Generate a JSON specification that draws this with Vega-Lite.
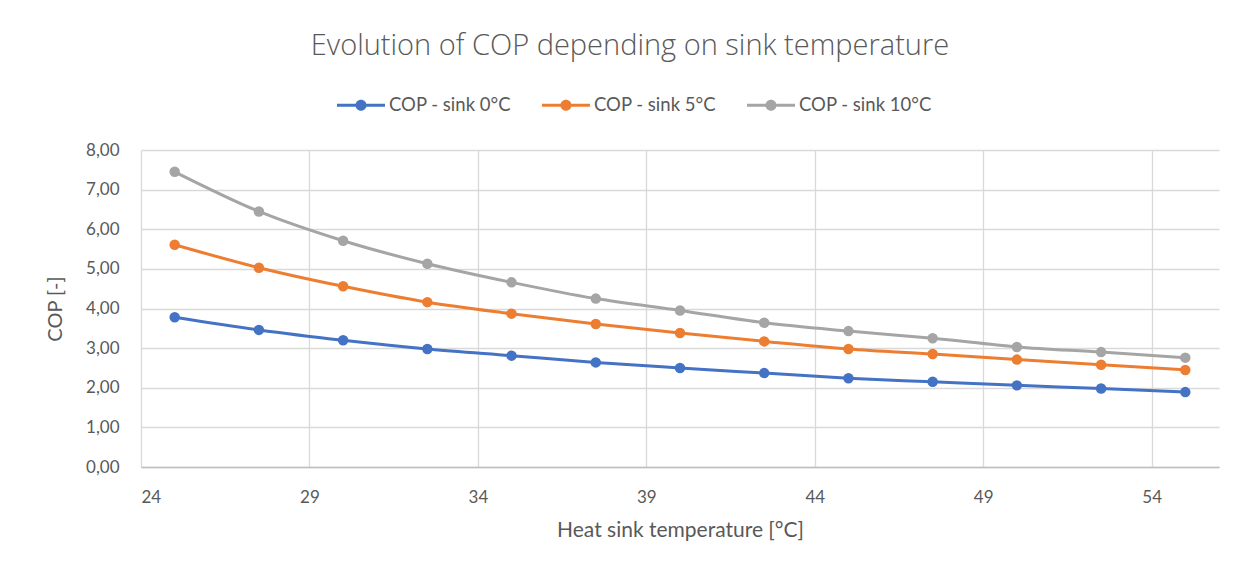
{
  "$schema": "https://vega.github.io/schema/vega-lite/v6.json",
  "width": 1078,
  "height": 317,
  "autosize": {"type": "none"},
  "padding": {"left": 141, "top": 150, "right": 40, "bottom": 95},
  "background": "white",
  "title": {
    "text": "Evolution of COP depending on sink temperature",
    "font": "Open Sans",
    "fontSize": 29,
    "fontWeight": 300,
    "color": "#595959",
    "anchor": "middle",
    "dx": -50,
    "offset": 20
  },
  "data": {
    "values": [
      {"t": 25, "series": "COP - sink 0°C", "cop": 3.78},
      {"t": 27.5, "series": "COP - sink 0°C", "cop": 3.46},
      {"t": 30, "series": "COP - sink 0°C", "cop": 3.20},
      {"t": 32.5, "series": "COP - sink 0°C", "cop": 2.98},
      {"t": 35, "series": "COP - sink 0°C", "cop": 2.81},
      {"t": 37.5, "series": "COP - sink 0°C", "cop": 2.64},
      {"t": 40, "series": "COP - sink 0°C", "cop": 2.50},
      {"t": 42.5, "series": "COP - sink 0°C", "cop": 2.37},
      {"t": 45, "series": "COP - sink 0°C", "cop": 2.24},
      {"t": 47.5, "series": "COP - sink 0°C", "cop": 2.15},
      {"t": 50, "series": "COP - sink 0°C", "cop": 2.06},
      {"t": 52.5, "series": "COP - sink 0°C", "cop": 1.98},
      {"t": 55, "series": "COP - sink 0°C", "cop": 1.89},
      {"t": 25, "series": "COP - sink 5°C", "cop": 5.61},
      {"t": 27.5, "series": "COP - sink 5°C", "cop": 5.03},
      {"t": 30, "series": "COP - sink 5°C", "cop": 4.56},
      {"t": 32.5, "series": "COP - sink 5°C", "cop": 4.16},
      {"t": 35, "series": "COP - sink 5°C", "cop": 3.87},
      {"t": 37.5, "series": "COP - sink 5°C", "cop": 3.61},
      {"t": 40, "series": "COP - sink 5°C", "cop": 3.38},
      {"t": 42.5, "series": "COP - sink 5°C", "cop": 3.17},
      {"t": 45, "series": "COP - sink 5°C", "cop": 2.98},
      {"t": 47.5, "series": "COP - sink 5°C", "cop": 2.85},
      {"t": 50, "series": "COP - sink 5°C", "cop": 2.71},
      {"t": 52.5, "series": "COP - sink 5°C", "cop": 2.58},
      {"t": 55, "series": "COP - sink 5°C", "cop": 2.45},
      {"t": 25, "series": "COP - sink 10°C", "cop": 7.45},
      {"t": 27.5, "series": "COP - sink 10°C", "cop": 6.45},
      {"t": 30, "series": "COP - sink 10°C", "cop": 5.71},
      {"t": 32.5, "series": "COP - sink 10°C", "cop": 5.13},
      {"t": 35, "series": "COP - sink 10°C", "cop": 4.66},
      {"t": 37.5, "series": "COP - sink 10°C", "cop": 4.25},
      {"t": 40, "series": "COP - sink 10°C", "cop": 3.95},
      {"t": 42.5, "series": "COP - sink 10°C", "cop": 3.64},
      {"t": 45, "series": "COP - sink 10°C", "cop": 3.43},
      {"t": 47.5, "series": "COP - sink 10°C", "cop": 3.25},
      {"t": 50, "series": "COP - sink 10°C", "cop": 3.03},
      {"t": 52.5, "series": "COP - sink 10°C", "cop": 2.90},
      {"t": 55, "series": "COP - sink 10°C", "cop": 2.76}
    ]
  },
  "encoding": {
    "x": {
      "field": "t",
      "type": "quantitative",
      "scale": {"domain": [24, 56], "nice": false, "zero": false},
      "axis": {
        "title": "Heat sink temperature [°C]",
        "values": [24, 29, 34, 39, 44, 49, 54],
        "format": "d",
        "grid": true,
        "gridColor": "#D9D9D9",
        "gridWidth": 1.3,
        "domain": true,
        "domainColor": "#BFBFBF",
        "domainWidth": 1.5,
        "ticks": false,
        "labelPadding": 22,
        "labelFont": "Lato",
        "labelFontSize": 17,
        "labelColor": "#595959",
        "titleFont": "Lato",
        "titleFontSize": 21,
        "titleFontWeight": "normal",
        "titleColor": "#595959",
        "titlePadding": 14
      }
    },
    "y": {
      "field": "cop",
      "type": "quantitative",
      "scale": {"domain": [0, 8], "nice": false},
      "axis": {
        "title": "COP [-]",
        "values": [0, 1, 2, 3, 4, 5, 6, 7, 8],
        "labelExpr": "replace(format(datum.value, '.2f'), '.', ',')",
        "grid": true,
        "gridColor": "#D9D9D9",
        "gridWidth": 1.3,
        "domain": false,
        "ticks": false,
        "labelPadding": 22,
        "labelFont": "Lato",
        "labelFontSize": 17,
        "labelColor": "#595959",
        "titleFont": "Lato",
        "titleFontSize": 20,
        "titleFontWeight": "normal",
        "titleColor": "#595959",
        "titlePadding": 20
      }
    },
    "color": {
      "field": "series",
      "type": "nominal",
      "sort": ["COP - sink 0°C", "COP - sink 5°C", "COP - sink 10°C"],
      "scale": {
        "domain": ["COP - sink 0°C", "COP - sink 5°C", "COP - sink 10°C"],
        "range": ["#4472C4", "#ED7D31", "#A5A5A5"]
      },
      "legend": {
        "title": null,
        "orient": "none",
        "direction": "horizontal",
        "legendX": 196,
        "legendY": -69,
        "symbolType": "M-1,-0.0625L1,-0.0625L1,0.0625L-1,0.0625Z M0.23,0A0.23,0.23 0 1,1 -0.23,0A0.23,0.23 0 1,1 0.23,0Z",
        "symbolSize": 2304,
        "labelOffset": 4,
        "columnPadding": 30,
        "labelFont": "Lato",
        "labelFontSize": 18.5,
        "labelColor": "#595959",
        "encode": {
          "symbols": {
            "update": {
              "fill": {"scale": "color", "field": "value"},
              "stroke": {"value": "transparent"},
              "strokeWidth": {"value": 0},
              "opacity": {"value": 1}
            }
          }
        }
      }
    }
  },
  "layer": [
    {
      "mark": {"type": "line", "interpolate": "monotone", "strokeWidth": 3}
    },
    {
      "mark": {"type": "point", "filled": true, "size": 110, "opacity": 1, "shape": "circle"}
    }
  ],
  "config": {
    "view": {"stroke": null}
  }
}
